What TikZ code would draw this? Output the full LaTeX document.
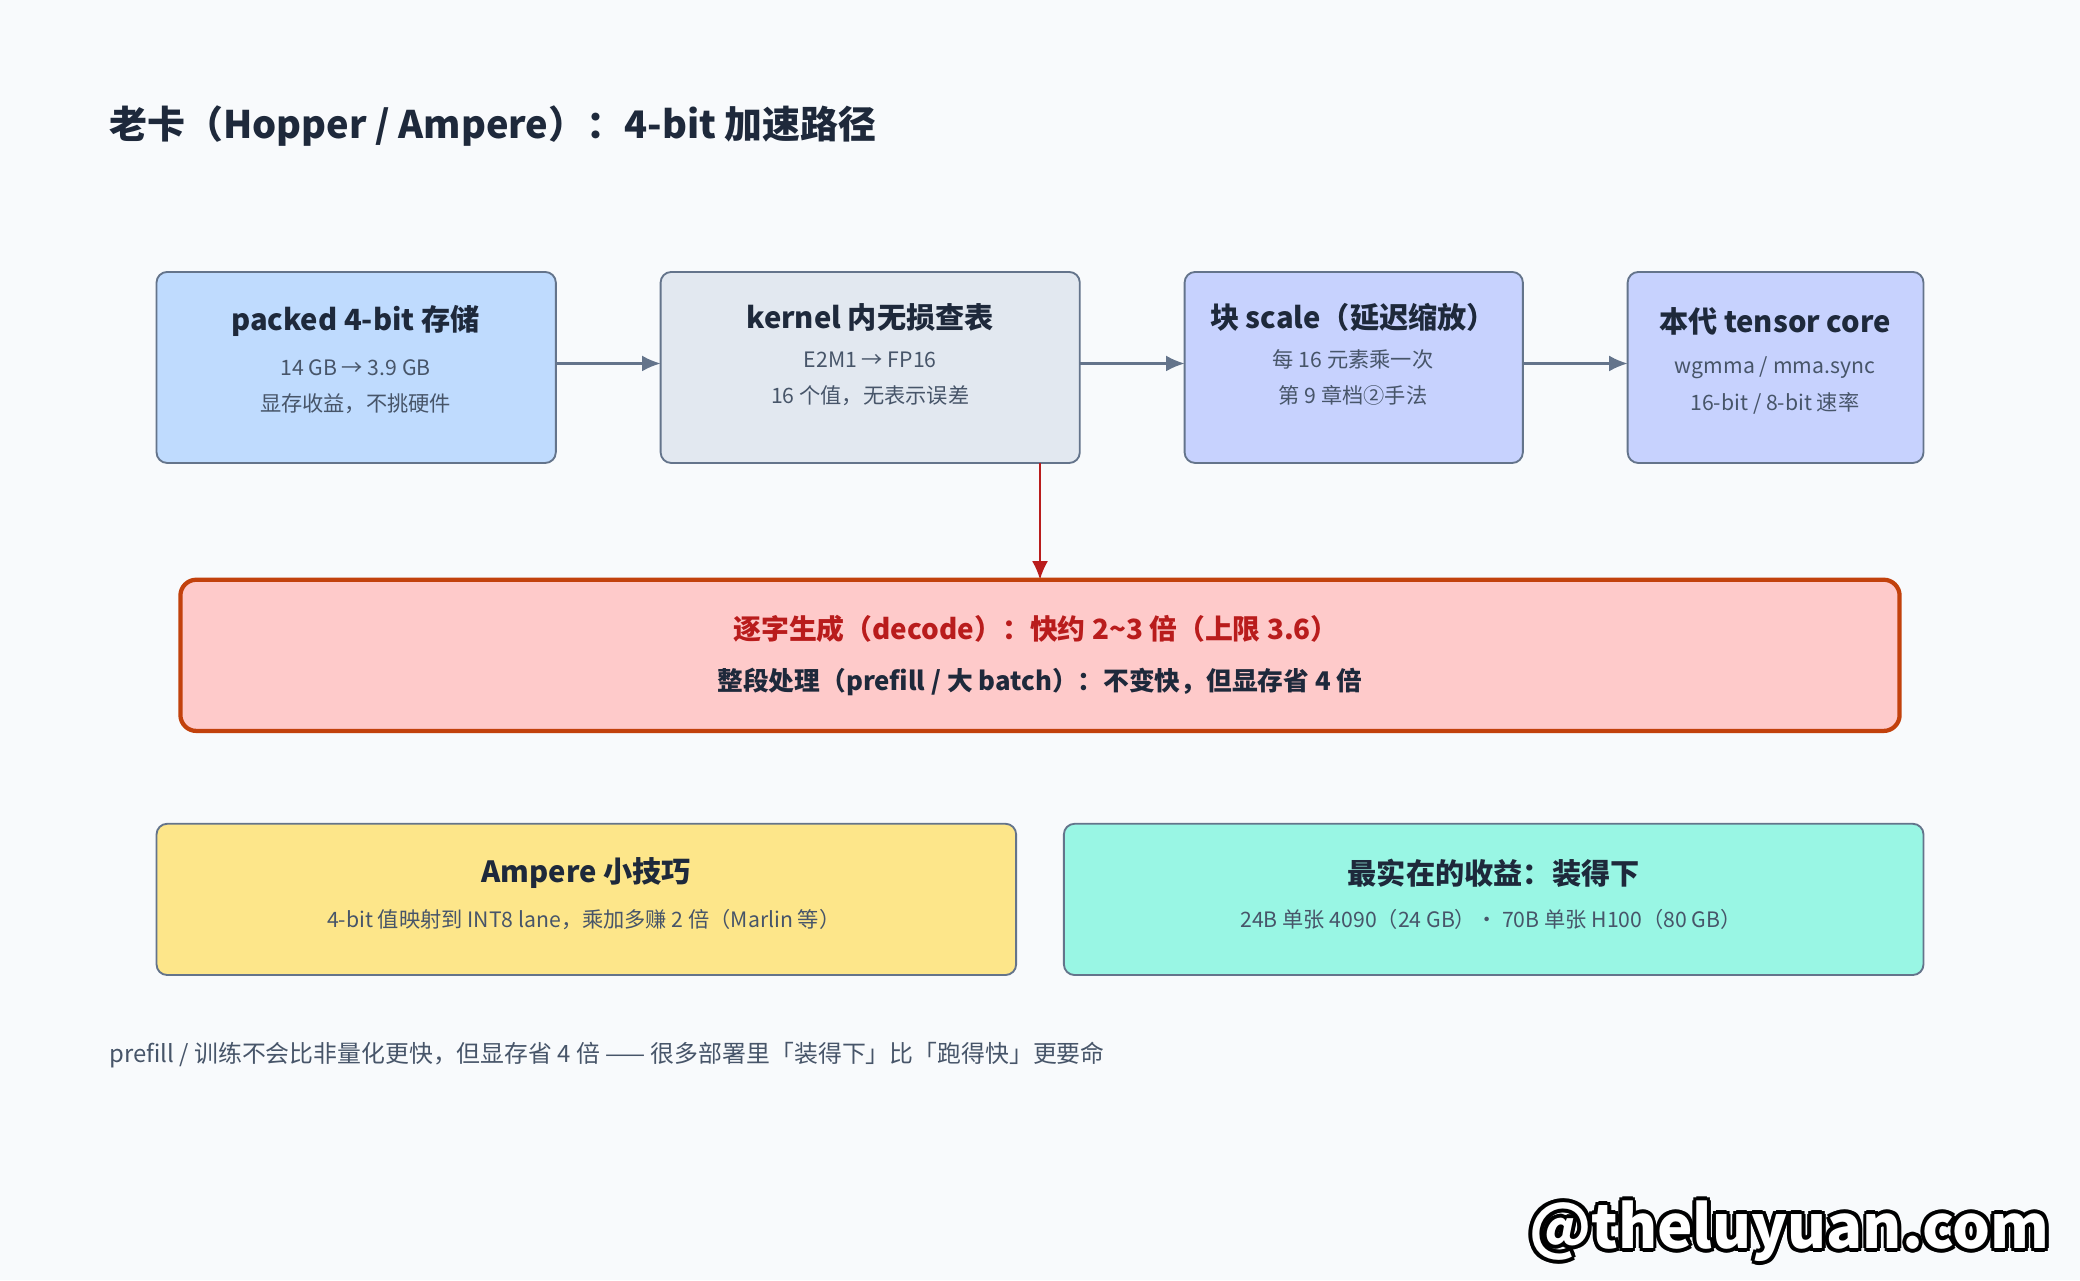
\documentclass[tikz,border=0pt]{standalone}
\usepackage{fontspec}
\setmainfont{Noto Sans CJK SC}
\usetikzlibrary{arrows.meta}
\definecolor{bg}{HTML}{F8FAFC}
\definecolor{bd}{HTML}{64748B}
\definecolor{tx}{HTML}{1E293B}
\definecolor{sub}{HTML}{475569}
\definecolor{blue1}{HTML}{BFDBFE}
\definecolor{gray1}{HTML}{E2E8F0}
\definecolor{ind}{HTML}{C7D2FE}
\definecolor{red1}{HTML}{FECACA}
\definecolor{redb}{HTML}{C2410C}
\definecolor{redt}{HTML}{B91C1C}
\definecolor{yel}{HTML}{FDE68A}
\definecolor{teal1}{HTML}{99F6E4}
\begin{document}
\begin{tikzpicture}[x=0.5pt,y=-0.5pt,
 box/.style={draw=bd,line width=0.7pt,rounded corners=4pt},
 ttl/.style={font=\fontsize{11}{13}\selectfont\bfseries,text=tx},
 st/.style={font=\fontsize{8}{10}\selectfont,text=sub},
 arr/.style={-{Latex[length=7pt,width=6pt]},draw=bd,line width=0.8pt}]
\fill[bg] (0,0) rectangle (1568,965);
\useasboundingbox (0,0) rectangle (1568,965);
\node[anchor=west,font=\fontsize{14.3}{17}\selectfont\bfseries,text=tx,inner sep=0pt] (title) at (82,95) {老卡（Hopper / Ampere）：4-bit 加速路径};
% top boxes
\draw[box,fill=blue1] (118,205) rectangle (419,349);
\draw[box,fill=gray1] (498,205) rectangle (814,349);
\draw[box,fill=ind] (893,205) rectangle (1148,349);
\draw[box,fill=ind] (1227,205) rectangle (1450,349);
\coordinate (b1r) at (419,274); \coordinate (b2l) at (498,274);
\coordinate (b2r) at (814,274); \coordinate (b3l) at (893,274);
\coordinate (b3r) at (1148,274); \coordinate (b4l) at (1227,274);
\coordinate (b2b) at (784,349); \coordinate (bigt) at (784,437);
\node[ttl] (t1) at (268,242) {packed 4-bit 存储};
\node[st] (s1a) at (268,277) {14 GB → 3.9 GB};
\node[st] (s1b) at (268,304) {显存收益，不挑硬件};
\node[ttl] (t2) at (656,239) {kernel 内无损查表};
\node[st] (s2a) at (656,271) {E2M1 → FP16};
\node[st] (s2b) at (656,298) {16 个值，无表示误差};
\node[ttl] (t3) at (1020,239) {块 scale（延迟缩放）};
\node[st] (s3a) at (1020,271) {每 16 元素乘一次};
\node[st] (s3b) at (1020,298) {第 9 章档②手法};
\node[ttl] (t4) at (1338,242) {本代 tensor core};
\node[st] (s4a) at (1338,277) {wgmma / mma.sync};
\node[st] (s4b) at (1338,304) {16-bit / 8-bit 速率};
\draw[arr] (b1r) -- (b2l);
\draw[arr] (b2r) -- (b3l);
\draw[arr] (b3r) -- (b4l);
\draw[arr,draw=redt] (b2b) -- (bigt);
% big box
\draw[draw=redb,line width=1.6pt,fill=red1,rounded corners=6pt] (136,437) rectangle (1432,551);
\node[ttl,text=redt,font=\fontsize{10.5}{12}\selectfont\bfseries] (r1) at (781,474) {逐字生成（decode）：快约 2\textasciitilde3 倍（上限 3.6）};
\node[ttl,font=\fontsize{9.7}{12}\selectfont\bfseries] (r2) at (784,514) {整段处理（prefill / 大 batch）：不变快，但显存省 4 倍};
% bottom boxes
\draw[box,fill=yel] (118,621) rectangle (766,735);
\draw[box,fill=teal1] (802,621) rectangle (1450,735);
\node[ttl] (y1) at (442,658) {Ampere 小技巧};
\node[st] (y2) at (440,693) {4-bit 值映射到 INT8 lane，乘加多赚 2 倍（Marlin 等）};
\node[ttl] (g1) at (1126,658) {最实在的收益：装得下};
\node[st] (g2) at (1124,693) {24B 单张 4090（24 GB）· 70B 单张 H100（80 GB）};
\node[st,anchor=west,inner sep=0pt,font=\fontsize{9}{11}\selectfont] (foot) at (82,795) {prefill / 训练不会比非量化更快，但显存省 4 倍 —— 很多部署里「装得下」比「跑得快」更要命};
% watermark
\foreach \dx/\dy in {-1.5/0,1.5/0,0/-1.5,0/1.5,-1.1/-1.1,1.1/1.1,-1.1/1.1,1.1/-1.1}
 \node[font=\fontsize{22.5}{26}\selectfont\bfseries,text=black,anchor=east] at ([xshift=\dx pt,yshift=\dy pt]1552,928) {@theluyuan.com};
\node[font=\fontsize{22.5}{26}\selectfont\bfseries,text=white,anchor=east] (wm) at (1552,928) {@theluyuan.com};
\end{tikzpicture}
\end{document}
